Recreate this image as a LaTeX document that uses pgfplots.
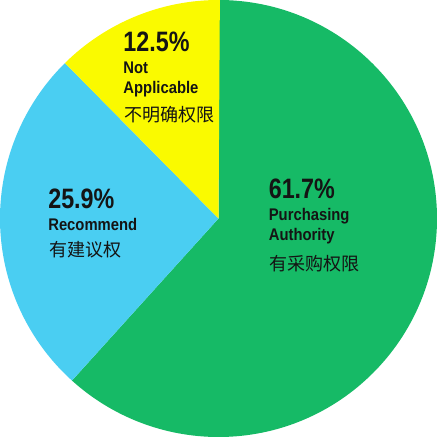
\documentclass[border=0pt]{standalone}
\usepackage{pgfplots}
\pgfplotsset{compat=1.18}
\usepackage{fontspec}
\setmainfont{Liberation Sans}
\newfontfamily\pctfont[FakeStretch=0.83]{Liberation Sans}
\newfontfamily\labfont[FakeStretch=0.88]{Liberation Sans}
\newfontfamily\cjk{Noto Sans CJK SC}
\definecolor{cgreen}{RGB}{22,186,102}
\definecolor{cblue}{RGB}{74,206,242}
\definecolor{cyellow}{RGB}{250,250,0}
\definecolor{ctext}{RGB}{20,20,20}
% pie values (percent)
\def\valA{61.7}% Purchasing Authority
\def\valB{25.9}% Recommend
\def\valC{12.5}% Not Applicable
\pgfmathsetmacro{\angA}{90-\valA*3.6}
\pgfmathsetmacro{\angB}{\angA-\valB*3.6}
\pgfmathsetmacro{\angC}{\angB-\valC*3.6}
\begin{document}
\begin{tikzpicture}
\begin{axis}[
  scale only axis, width=436pt, height=436pt,
  xmin=0, xmax=436, ymin=0, ymax=436,
  hide axis, clip=false,
]
\fill[cgreen] (axis cs:218,218) -- (axis cs:218,436) arc[start angle=90, end angle=\angA, radius=218pt] -- cycle;
\fill[cblue] (axis cs:218,218) -- ++(\angA:218pt) arc[start angle=\angA, end angle=\angB, radius=218pt] -- cycle;
\fill[cyellow] (axis cs:218,218) -- ++(\angB:218pt) arc[start angle=\angB, end angle=\angC, radius=218pt] -- cycle;
% labels
\begin{scope}[every node/.style={inner sep=0pt, anchor=base west, text=ctext}]
\node at (axis cs:123,385) {\pctfont\bfseries\fontsize{28}{28}\selectfont 12.5\%};
\node at (axis cs:123,363) {\labfont\bfseries\fontsize{16.8}{16.8}\selectfont Not};
\node at (axis cs:123,343) {\labfont\bfseries\fontsize{16.8}{16.8}\selectfont Applicable};
\node at (axis cs:124,315) {\cjk\fontsize{18}{18}\selectfont 不明确权限};
\node at (axis cs:268,238) {\pctfont\bfseries\fontsize{28}{28}\selectfont 61.7\%};
\node at (axis cs:268,216) {\labfont\bfseries\fontsize{16.8}{16.8}\selectfont Purchasing};
\node at (axis cs:268,196) {\labfont\bfseries\fontsize{16.8}{16.8}\selectfont Authority};
\node at (axis cs:269,166) {\cjk\fontsize{18}{18}\selectfont 有采购权限};
\node at (axis cs:48,228) {\pctfont\bfseries\fontsize{28}{28}\selectfont 25.9\%};
\node at (axis cs:48,206) {\labfont\bfseries\fontsize{16.8}{16.8}\selectfont Recommend};
\node at (axis cs:49,180) {\cjk\fontsize{18}{18}\selectfont 有建议权};
\end{scope}
\end{axis}
\pgfresetboundingbox
\path[use as bounding box] (0,0) rectangle (436pt,436pt);
\end{tikzpicture}
\end{document}
